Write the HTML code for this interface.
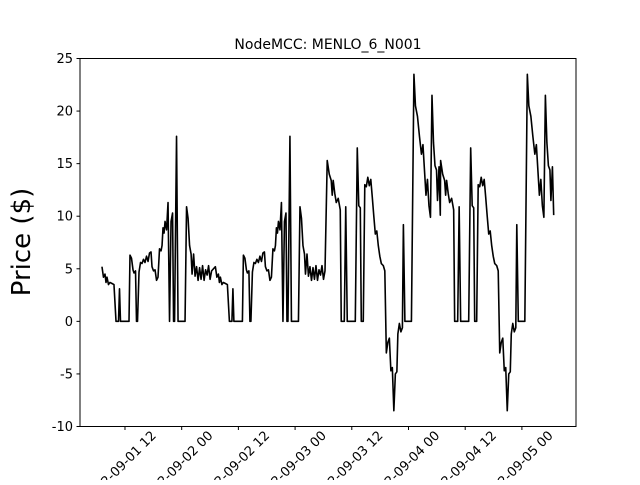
<!DOCTYPE html>
<html><head><meta charset="utf-8"><style>
body{margin:0;background:#fff;}
svg text{font-family:"DejaVu Sans","Liberation Sans",sans-serif;fill:#000;}
</style></head><body>
<svg id="chart" width="640" height="480" viewBox="0 0 640 480" xmlns="http://www.w3.org/2000/svg">
<rect x="0" y="0" width="640" height="480" fill="#fff"/>
<text x="328" y="49" font-size="14" text-anchor="middle">NodeMCC: MENLO_6_N001</text>
<text x="0" y="0" font-size="26" text-anchor="middle" transform="translate(30,242) rotate(-90)">Price ($)</text>
<g id="ticks"></g>
<path id="series" fill="none" stroke="#000" stroke-width="1.6" stroke-linejoin="round"/>
<rect x="80" y="58.5" width="496" height="368" fill="none" stroke="#000" stroke-width="1"/>
</svg>
<script>
// segment A (hours offset from start), repeated the next day
const segATimes=[0,0.32,0.64,0.85,1.06,1.38,1.69,2.12,2.54,2.97,3.5,3.71,3.92,5.72,5.93,6.25,6.57,6.78,7.1,7.31,7.52,7.84,8.16,8.47,8.79,9.11,9.43,9.75,10.06,10.38,10.59,10.91,11.23,11.55,11.86,12.18,12.5,12.71,12.92,13.14,13.35,13.67,13.98,14.3,14.62,14.94,15.15,15.36,15.78,16.1,17.58,17.9,18.22,18.54,18.86,19.07,19.39,19.7,20.02,20.34,20.66,20.97,21.29,21.61,21.93,22.25,22.56,22.88,23.2];
const segAValues=[5.2,4.2,4.5,3.7,4.2,3.5,3.7,3.6,3.5,0,0,3.1,0,0,6.3,6.0,4.9,4.6,4.8,0,0,4.7,5.6,5.5,5.9,5.6,6.2,5.7,6.5,6.6,5.2,4.8,4.9,3.9,4.2,6.9,6.7,7.2,8.9,8.4,9.5,8.7,11.3,0,9.5,10.3,0,0,17.6,0,0,10.9,9.8,7.2,6.4,4.5,6.4,4.3,5.2,3.9,5.1,4.0,5.3,3.9,4.9,4.4,5.3,4.0,4.8];
const segAStart=7.13;
// segment B (absolute hours since 09-01 00:00), repeated the next day
const segBTimes=[54.8,55.23,55.65,55.86,56.07,56.39,56.71,57.13,57.56,57.77,58.41,58.72,59.04,60.74,61.16,61.48,61.8,62.01,62.43,62.75,63.07,63.39,63.71,64.02,64.34,64.66,64.98,65.29,65.61,65.93,66.25,66.67,66.99,67.31,67.63,67.95,68.27,68.58,68.9,69.22,69.54,69.75,70.07,70.39,70.71,70.92,71.24,72.62,73.15,73.47,73.9,74.32,74.74,75.06,75.38,75.7,76.01,76.33,76.65,76.97,77.29,77.61,77.93,78.14,78.46,78.73];
const segBValues=[15.3,14.0,13.4,12.0,13.4,12.2,11.3,11.7,10.6,0,0,10.9,0,0,16.5,11.0,10.8,0,0,13.0,12.8,13.7,12.9,13.5,11.8,10.0,8.3,8.6,7.2,6.2,5.5,5.3,4.8,-3.0,-2.0,-1.6,-4.7,-4.4,-8.5,-5.0,-4.8,-1.2,-0.2,-1.0,-0.6,9.2,0,0,23.5,20.5,19.5,17.6,15.9,16.8,14.4,12.0,13.5,11.0,9.9,21.5,17.0,14.8,14.4,11.5,14.7,10.1];
const yTicks=[-10,-5,0,5,10,15,20,25];
const xTickHours=[12,24,36,48,60,72,84,96];
const xTickLabels=["2022-09-01 12","2022-09-02 00","2022-09-02 12","2022-09-03 00","2022-09-03 12","2022-09-04 00","2022-09-04 12","2022-09-05 00"];

const X0=80,X1=576,Y0=426.5,Y1=58.5;
const hMin=2.48,hMax=107.45,vMin=-10,vMax=25;
const xs=h=>X0+(h-hMin)/(hMax-hMin)*(X1-X0);
const ys=v=>Y0-(v-vMin)/(vMax-vMin)*(Y0-Y1);

const pts=[];
for(let rep=0;rep<2;rep++){segATimes.forEach((t,i)=>pts.push([segAStart+t+24*rep,segAValues[i]]));}
for(let rep=0;rep<2;rep++){segBTimes.forEach((t,i)=>pts.push([t+24*rep,segBValues[i]]));}
const path=document.getElementById('series');
path.setAttribute('d',pts.map((p,i)=>(i?'L':'M')+xs(p[0]).toFixed(2)+','+ys(p[1]).toFixed(2)).join(''));

const NS='http://www.w3.org/2000/svg';
const g=document.getElementById('ticks');
yTicks.forEach(v=>{
  const y=ys(v);
  const l=document.createElementNS(NS,'line');
  
  
  l.setAttribute('x1',X0-3.5);l.setAttribute('x2',X0);l.setAttribute('y1',y);l.setAttribute('y2',y);l.setAttribute('stroke','#000');
  g.appendChild(l);
  const t=document.createElementNS(NS,'text');
  
  
  t.setAttribute('x',X0-7);t.setAttribute('y',y+4.5);t.setAttribute('font-size','13');t.setAttribute('text-anchor','end');
  t.textContent=v;g.appendChild(t);
});
xTickHours.forEach((h,i)=>{
  const x=xs(h);
  const l=document.createElementNS(NS,'line');
  
  
  l.setAttribute('x1',x);l.setAttribute('x2',x);l.setAttribute('y1',Y0);l.setAttribute('y2',Y0+3.5);l.setAttribute('stroke','#000');
  g.appendChild(l);
  const t=document.createElementNS(NS,'text');
  
  
  t.setAttribute('font-size','13');t.setAttribute('text-anchor','middle');
  t.setAttribute('transform','translate('+(x-5)+','+(Y0+41)+') rotate(-45)');
  t.setAttribute('x',0);t.setAttribute('y',4);
  t.textContent=xTickLabels[i];g.appendChild(t);
});
</script>
</body></html>
